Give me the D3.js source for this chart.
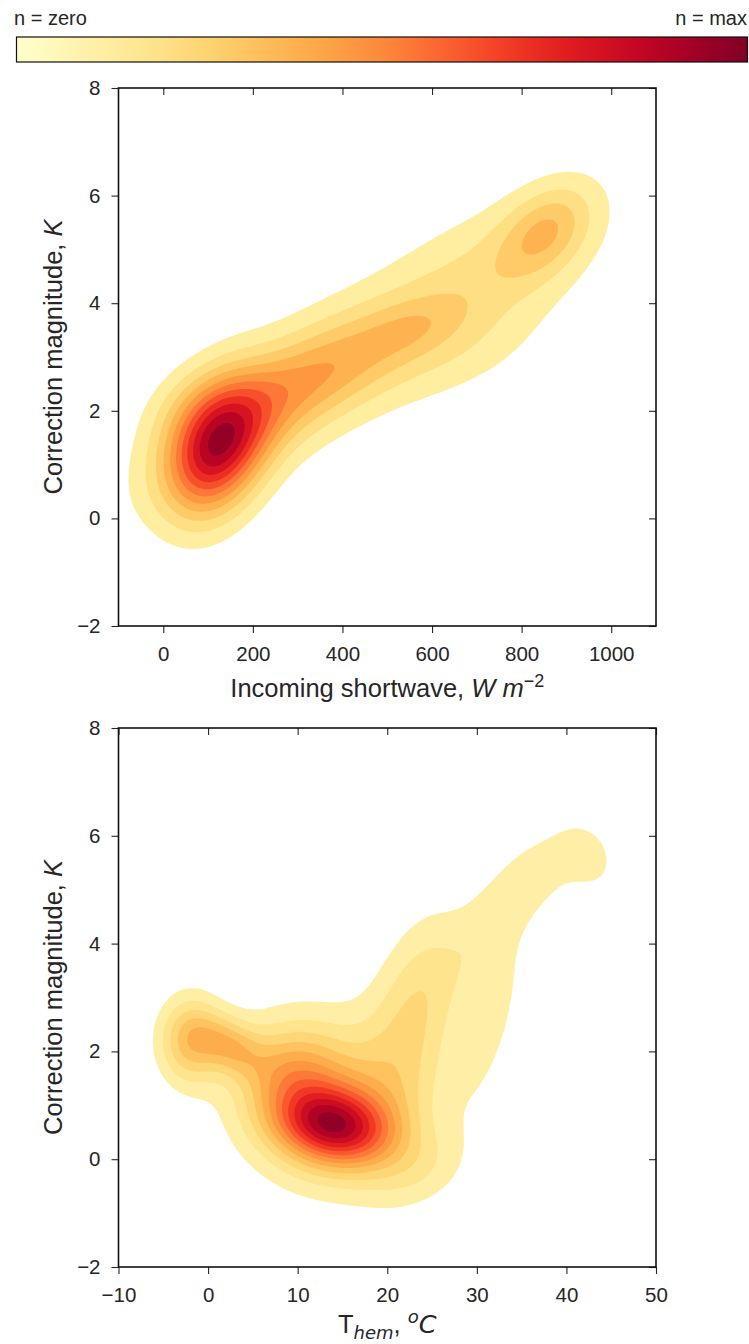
<!DOCTYPE html>
<html lang="en">
<head>
<meta charset="UTF-8">
<title>Correction magnitude density</title>
<script src="https://cdnjs.cloudflare.com/ajax/libs/d3/7.8.5/d3.min.js"></script>
<style>
    body {
        margin: 0;
        background: #fff;
    }
    svg {
        display: block;
        font-family: "Liberation Sans", Arial, sans-serif;
    }
    .tick text {
        fill: #262626;
        font-size: 20.5px;
    }
    .tick line {
        stroke: #262626;
    }
    .axis-label {
        fill: #262626;
        font-size: 25.5px;
    }
</style>
</head>
<body>
<div id="chart"></div>
<script>
// axis ticks
const corrTicks = [-2, 0, 2, 4, 6, 8];
const swTicks = [0, 200, 400, 600, 800, 1000];
const tempTicks = [-10, 0, 10, 20, 30, 40, 50];

// top panel, density blobs (W m-2, K)
const swX   = [120, 215, 400, 560, 700, 855, 680, 520, 50];
const swY   = [1.3, 2.0, 2.85, 3.55, 4.4, 5.35, 3.0, 3.4, 2.1];
const swSx  = [76, 150, 140, 80, 150, 72, 120, 335, 70];
const swSy  = [0.88, 1.0, 0.75, 0.4, 1.0, 0.6, 0.6, 1.81, 0.55];
const swRho = [0.3, 0.7, 0.6, 0.4, 0.5, 0.4, 0.5, 0.77, 0.3];
const swW   = [0.75, 0.3, 0.19, 0.1, 0.13, 0.28, 0.05, 0.1, 0.09];
const swLevels = 12;

// bottom panel, density blobs (deg C, K)
const tX   = [14, 12.5, 2.5, -2, 9, 22, 24, 31, 37, 42.5, 32, 24];
const tY   = [0.62, 1.1, 2.1, 2.2, 1.7, 1.8, 3.3, 4.3, 5.3, 5.6, 2.6, -0.2];
const tSx  = [4.5, 6, 2.5, 2.4, 3.5, 4, 3.5, 3, 3, 2.5, 3, 3.5];
const tSy  = [0.5, 1.0, 0.38, 0.55, 0.5, 1.3, 1.0, 0.8, 0.55, 0.5, 1.4, 0.5];
const tRho = [-0.2, -0.1, -0.3, 0, 0, 0.3, 0.4, 0.6, 0.4, -0.2, 0.7, 0.3];
const tW   = [0.62, 0.33, 0.25, 0.3, 0.15, 0.15, 0.11, 0.09, 0.09, 0.09, 0.08, 0.08];
const tLevels = 14;

const width = 749, height = 1344;
const plotLeft = 118.5, plotRight = 656;

const svg = d3.select("#chart").append("svg")
    .attr("width", width)
    .attr("height", height);

// colour bar on top
const grad = svg.append("defs").append("linearGradient")
    .attr("id", "cbar")
    .attr("x1", "0%").attr("x2", "100%");
d3.range(0, 1.0001, 0.05).forEach(t => {
    grad.append("stop")
        .attr("offset", (t * 100) + "%")
        .attr("stop-color", d3.interpolateYlOrRd(t));
});
svg.append("rect")
    .attr("x", 16.5).attr("y", 37)
    .attr("width", 731).attr("height", 25)
    .attr("fill", "url(#cbar)")
    .attr("stroke", "#111")
    .attr("stroke-width", 1.2);
svg.append("text")
    .attr("x", 14).attr("y", 25)
    .attr("fill", "#262626")
    .style("font-size", "20px")
    .text("n = zero");
svg.append("text")
    .attr("x", 747).attr("y", 25)
    .attr("text-anchor", "end")
    .attr("fill", "#262626")
    .style("font-size", "20px")
    .text("n = max");

function blobDensity(cx, cy, sx, sy, rho, w) {
    return (x, y) => {
        let s = 0;
        for (let k = 0; k < cx.length; k++) {
            const u = (x - cx[k]) / sx[k], v = (y - cy[k]) / sy[k];
            const q = (u * u - 2 * rho[k] * u * v + v * v) / (1 - rho[k] * rho[k]);
            s += w[k] * Math.exp(-0.5 * q);
        }
        return s;
    };
}

function drawPanel(opts) {
    const { top, bottom, xDomain, xTicks, density, nLevels, id } = opts;
    const x = d3.scaleLinear().domain(xDomain).range([plotLeft, plotRight]);
    const y = d3.scaleLinear().domain([-2, 8]).range([bottom, top]);

    const g = svg.append("g");

    g.append("clipPath").attr("id", id)
        .append("rect")
        .attr("x", plotLeft).attr("y", top)
        .attr("width", plotRight - plotLeft).attr("height", bottom - top);

    // density grid
    const nx = 270, ny = 270;
    const dx = (xDomain[1] - xDomain[0]) / nx, dy = 10 / ny;
    const values = new Float64Array(nx * ny);
    for (let j = 0; j < ny; j++) {
        const yy = 8 - (j + 0.5) * dy;
        for (let i = 0; i < nx; i++) {
            values[j * nx + i] = density(xDomain[0] + (i + 0.5) * dx, yy);
        }
    }
    const vmax = d3.max(values);
    const step = vmax / (nLevels - 0.4);
    const thresholds = d3.range(1, nLevels).map(k => k * step);

    const contours = d3.contours().size([nx, ny]).thresholds(thresholds)(values);
    const path = d3.geoPath(d3.geoTransform({
        point: function (px, py) {
            this.stream.point(x(xDomain[0] + px * dx), y(8 - py * dy));
        }
    }));

    g.append("g")
        .attr("clip-path", `url(#${id})`)
        .selectAll("path")
        .data(contours)
        .join("path")
        .attr("d", path)
        .attr("fill", (d, k) => d3.interpolateYlOrRd((k + 1.5) / nLevels));

    // axes
    const fmt = d3.format("d");
    g.append("g")
        .attr("transform", `translate(0,${bottom})`)
        .call(d3.axisBottom(x).tickValues(xTicks).tickFormat(fmt).tickSize(7).tickPadding(13).tickSizeOuter(0))
        .call(a => a.select(".domain").remove());
    g.append("g")
        .attr("transform", `translate(${plotLeft},0)`)
        .call(d3.axisLeft(y).tickValues(corrTicks).tickFormat(fmt).tickSize(7).tickPadding(11).tickSizeOuter(0))
        .call(a => a.select(".domain").remove());
    g.append("g")
        .attr("transform", `translate(0,${top})`)
        .call(d3.axisTop(x).tickValues(xTicks).tickSize(-7).tickFormat("").tickSizeOuter(0))
        .call(a => a.select(".domain").remove());
    g.append("g")
        .attr("transform", `translate(${plotRight},0)`)
        .call(d3.axisRight(y).tickValues(corrTicks).tickSize(-7).tickFormat("").tickSizeOuter(0))
        .call(a => a.select(".domain").remove());
    g.selectAll(".tick text").style("font-family", null);
    g.selectAll(".tick line").attr("stroke-width", 1.1);

    g.append("rect")
        .attr("x", plotLeft).attr("y", top)
        .attr("width", plotRight - plotLeft).attr("height", bottom - top)
        .attr("fill", "none")
        .attr("stroke", "#111")
        .attr("stroke-width", 1.6);

    // y label
    const yl = g.append("text")
        .attr("class", "axis-label")
        .attr("transform", `translate(62,${(top + bottom) / 2}) rotate(-90)`)
        .attr("text-anchor", "middle");
    yl.append("tspan").text("Correction magnitude, ");
    yl.append("tspan").style("font-style", "italic").text("K");
    return g;
}

const topPanel = drawPanel({
    id: "clipTop", top: 88, bottom: 626,
    xDomain: [-100, 1100], xTicks: swTicks,
    density: blobDensity(swX, swY, swSx, swSy, swRho, swW),
    nLevels: swLevels
});
const xl1 = topPanel.append("text")
    .attr("class", "axis-label")
    .attr("x", (plotLeft + plotRight) / 2).attr("y", 697)
    .attr("text-anchor", "middle");
xl1.append("tspan").text("Incoming shortwave, ");
xl1.append("tspan").style("font-style", "italic").text("W m");
xl1.append("tspan").attr("dy", -10).style("font-size", "18px").text("\u22122");

const bottomPanel = drawPanel({
    id: "clipBottom", top: 728, bottom: 1267,
    xDomain: [-10, 50], xTicks: tempTicks,
    density: blobDensity(tX, tY, tSx, tSy, tRho, tW),
    nLevels: tLevels
});
const xl2 = bottomPanel.append("text")
    .attr("class", "axis-label")
    .attr("x", (plotLeft + plotRight) / 2).attr("y", 1333)
    .attr("text-anchor", "middle");
xl2.append("tspan").text("T");
xl2.append("tspan").attr("dy", 6).style("font-size", "18px")
    .style("font-family", "'DejaVu Sans'").style("font-style", "italic").text("hem");
xl2.append("tspan").attr("dy", -6).text(", ");
xl2.append("tspan").attr("dy", -10).style("font-size", "18px")
    .style("font-family", "'DejaVu Sans'").style("font-style", "italic").text("o");
xl2.append("tspan").attr("dy", 10)
    .style("font-family", "'DejaVu Sans'").style("font-style", "italic").text("C");
</script>
</body>
</html>
